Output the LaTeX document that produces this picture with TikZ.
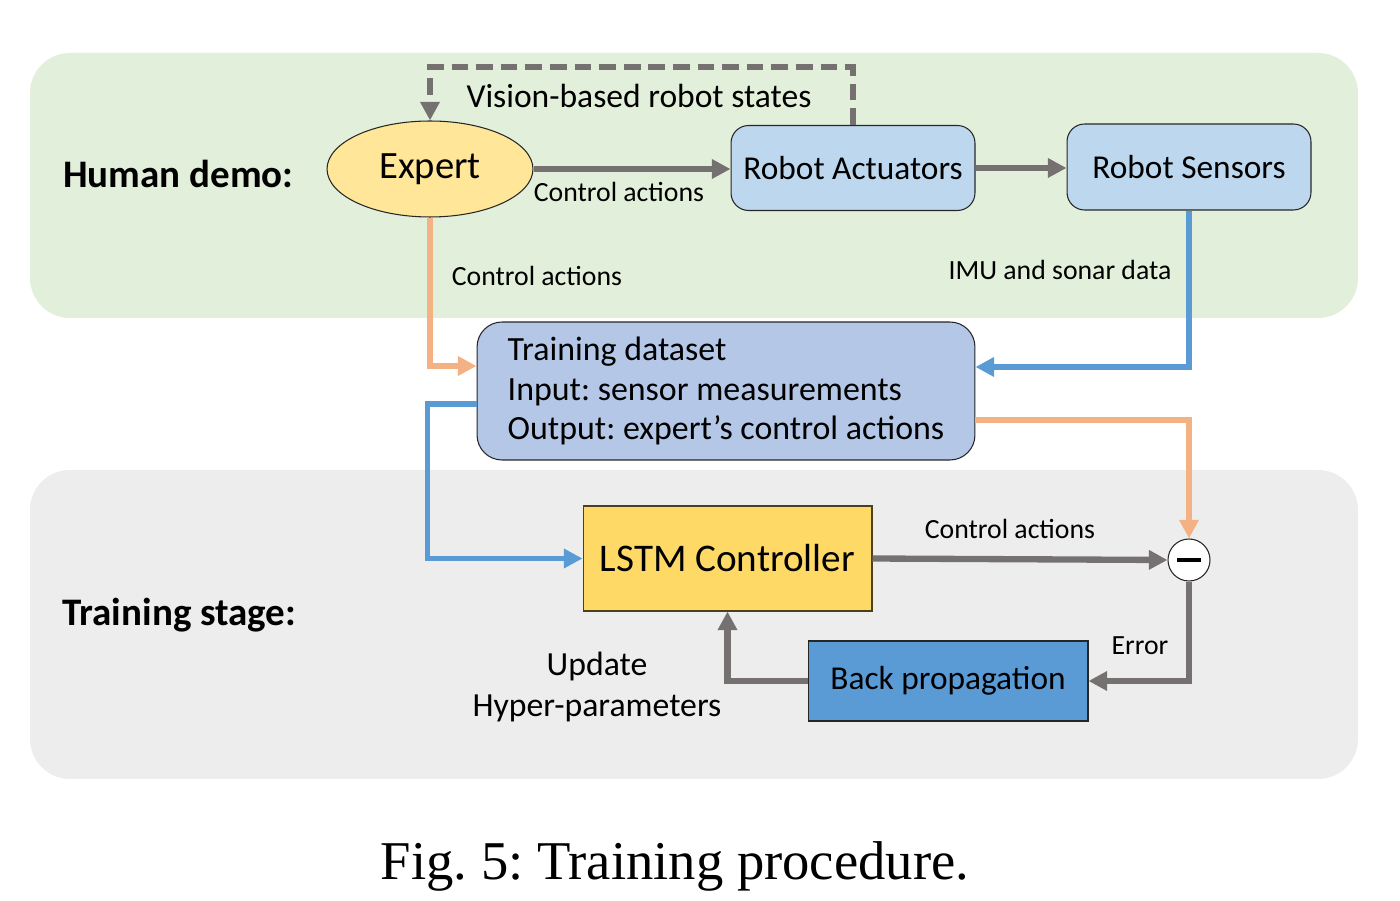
\documentclass[tikz,border=0pt]{standalone}
\usepackage{fontspec}
\setmainfont{Carlito}
\newfontfamily\capfont{Liberation Serif}
\usetikzlibrary{calc}
\usetikzlibrary{arrows.meta}
\usetikzlibrary{shapes.geometric}
\frenchspacing

\definecolor{demogreen}{HTML}{E2EFDA}
\definecolor{stagegray}{HTML}{EDEDED}
\definecolor{expertyellow}{HTML}{FFE699}
\definecolor{robotblue}{HTML}{BDD7EE}
\definecolor{datablue}{HTML}{B4C7E7}
\definecolor{lstmyellow}{HTML}{FFD966}
\definecolor{backblue}{HTML}{5B9BD5}
\definecolor{arrowgray}{HTML}{767171}
\definecolor{arroworange}{HTML}{F4B183}
\definecolor{arrowblue}{HTML}{5B9BD5}

\tikzset{
 box/.style={draw=black!85, line width=0.6pt, align=center, inner sep=0pt},
 garrow/.style={draw=arrowgray, line width=3.6pt, -{Triangle[length=10.6pt,width=10.6pt]}},
 oarrow/.style={draw=arroworange, line width=3.1pt, -{Triangle[length=10.6pt,width=10.6pt]}},
 barrow/.style={draw=arrowblue, line width=3.1pt, -{Triangle[length=10.6pt,width=10.6pt]}},
 lbl/.style={font=\fontsize{15.8}{19}\selectfont, inner sep=0pt}
}

\begin{document}
\begin{tikzpicture}[x=0.02cm, y=-0.02cm]
\useasboundingbox (0,0) rectangle (1400,901);
\fill[demogreen, rounded corners=0.8cm] (30,53) rectangle (1358,318);
\fill[stagegray, rounded corners=0.8cm] (30,470) rectangle (1358,779);
\node[anchor=west, font=\fontsize{22.2}{26}\selectfont\bfseries, inner sep=0pt] (demo) at (63,174) {Human demo:};
\node[anchor=west, font=\fontsize{22.2}{26}\selectfont\bfseries, inner sep=0pt] (stage) at (62,615) {Training stage:};
% top row
\node[box, ellipse, fill=expertyellow, minimum width=4.12cm, minimum height=1.92cm, font=\fontsize{22}{26}\selectfont] (expert) at (430,169) {Expert};
\node[box, rounded corners=10pt, fill=robotblue, minimum width=4.88cm, minimum height=1.7cm, font=\fontsize{19}{23}\selectfont] (act) at (853,168) {Robot Actuators};
\node[box, rounded corners=10pt, fill=robotblue, minimum width=4.88cm, minimum height=1.72cm, font=\fontsize{19}{23}\selectfont] (sens) at (1189,167) {Robot Sensors};
\node[box, rounded corners=0.5cm, fill=datablue, minimum width=9.96cm, minimum height=2.76cm, align=left, font=\fontsize{19.3}{22.7}\selectfont] (data) at (726,391) {Training dataset\\Input: sensor measurements\\Output: expert’s control actions};
% bottom row
\node[box, draw=black!70!lstmyellow, fill=lstmyellow, minimum width=5.78cm, minimum height=2.1cm, font=\fontsize{22.3}{26}\selectfont] (lstm) at (727.5,558.5) {LSTM Controller};
\node[box, circle, fill=white, minimum size=0.84cm] (minus) at (1189,560) {};
\draw[line width=2.6pt] ($(minus.center)+(-12,0)$) -- ($(minus.center)+(12,0)$);
\node[box, fill=backblue, minimum width=5.6cm, minimum height=1.6cm, font=\fontsize{19}{23}\selectfont] (back) at (948,681) {Back propagation};
% connectors
\draw[garrow] (expert.east) -- (expert.east -| act.west);
\draw[garrow] (act.east) -- (act.east -| sens.west);
\coordinate (vtop) at (640,67);
\draw[arrowgray, line width=3.6pt, dash pattern=on 9.5pt off 4.5pt, -{Triangle[length=10.6pt,width=10.6pt]}] (act.north) |- (vtop) -| (expert.north);
\draw[oarrow] (expert.south) |- ($(data.west)+(0,-25)$);
\draw[barrow] (sens.south) |- ($(data.east)+(0,-24)$);
\draw[barrow] ($(data.west)+(0,13)$) -- ++(-49,0) |- (lstm.west);
\draw[oarrow] ($(data.east)+(0,29)$) -| (minus.north);
\draw[garrow] (lstm.east) -- (minus.west);
\draw[garrow] (minus.south) |- (back.east);
\draw[garrow] (back.west) -| (lstm.south);
% labels
\node[font=\fontsize{19.1}{23}\selectfont, inner sep=0pt] (vision) at (639,96) {Vision-based robot states};
\node[lbl] (ca1) at (619,192) {Control actions};
\node[lbl] (ca2) at (537,276) {Control actions};
\node[lbl] (imu) at (1060,270) {IMU and sonar data};
\node[lbl] (ca3) at (1010,529) {Control actions};
\node[lbl] (err) at (1140,646) {Error};
\node[font=\fontsize{19.2}{23.3}\selectfont, align=center, inner sep=0pt] (upd) at (597,687) {Update\\Hyper-parameters};
\node[font=\fontsize{31.1}{36}\selectfont\capfont, inner sep=0pt] (cap) at (675,866) {Fig. 5: Training procedure.};
\end{tikzpicture}
\end{document}
